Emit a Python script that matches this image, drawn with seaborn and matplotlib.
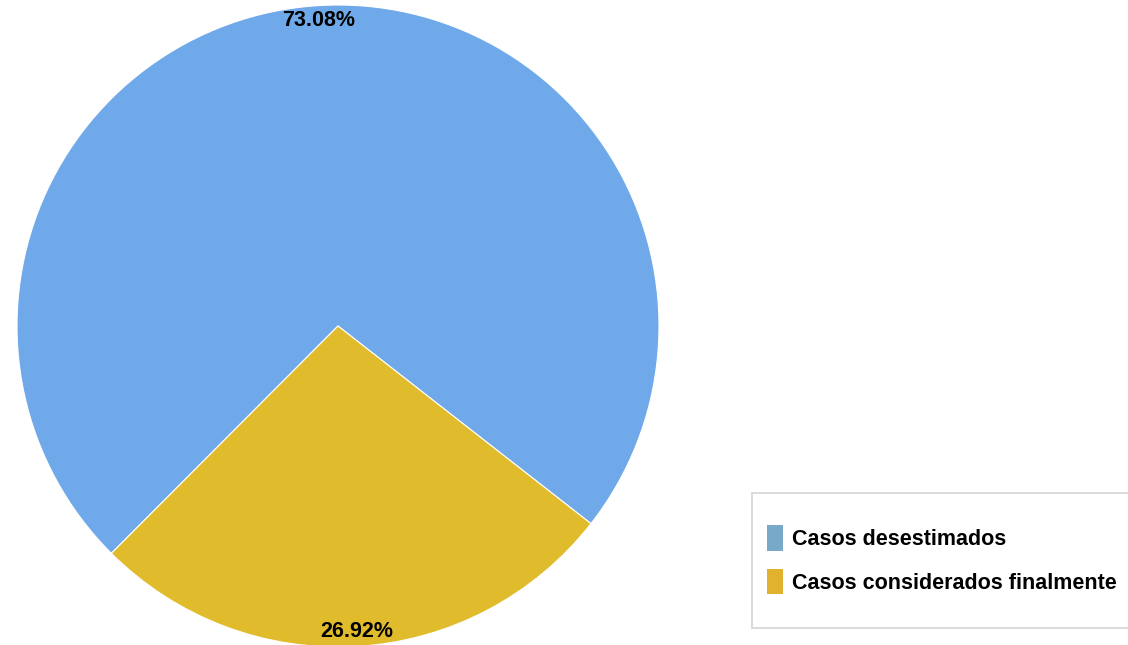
import matplotlib
matplotlib.use("Agg")
import matplotlib.pyplot as plt
import seaborn as sns
from matplotlib.patches import Patch, Rectangle

# datos del gráfico
categorias = ["Casos desestimados", "Casos considerados finalmente"]
porcentajes = [73.08, 26.92]
colores_pie = ["#70a9ea", "#e0bc2c"]
colores_leyenda = ["#79a9c9", "#e0b22e"]

sns.set_theme(style="white")
plt.rcParams["font.family"] = ["Liberation Sans", "DejaVu Sans"]

fig = plt.figure(figsize=(11.28, 6.45), dpi=100)
ax = fig.add_axes([17 / 1128, -2 / 645, 642 / 1128, 642 / 645])

wedges, texts, autotexts = ax.pie(
    porcentajes,
    colors=colores_pie,
    startangle=-38,
    counterclock=True,
    autopct="%.2f%%",
    pctdistance=0.955,
    wedgeprops={"edgecolor": "white", "linewidth": 0.8},
    textprops={"fontsize": 15.5, "fontweight": "bold", "color": "black"},
)
ax.set_xlim(-1, 1)
ax.set_ylim(-1, 1)
ax.set_aspect("equal")

# marco de la leyenda (cortado por el borde derecho)
fig.patches.append(
    Rectangle(
        (752 / 1128, 1 - 628 / 645),
        400 / 1128,
        135 / 645,
        transform=fig.transFigure,
        facecolor="white",
        edgecolor="#d4d4d4",
        linewidth=1.2,
    )
)

handles = [Patch(facecolor=c, edgecolor="none") for c in colores_leyenda]
leg = fig.legend(
    handles,
    categorias,
    loc="upper left",
    bbox_to_anchor=(767 / 1128, 1 - 525 / 645),
    frameon=False,
    handlelength=0.75,
    handleheight=1.45,
    handletextpad=0.4,
    labelspacing=0.85,
    borderpad=0,
    borderaxespad=0,
    labelcolor="black",
    prop={"weight": "bold", "size": 15.5},
)

fig.savefig("out.png", dpi=100)
